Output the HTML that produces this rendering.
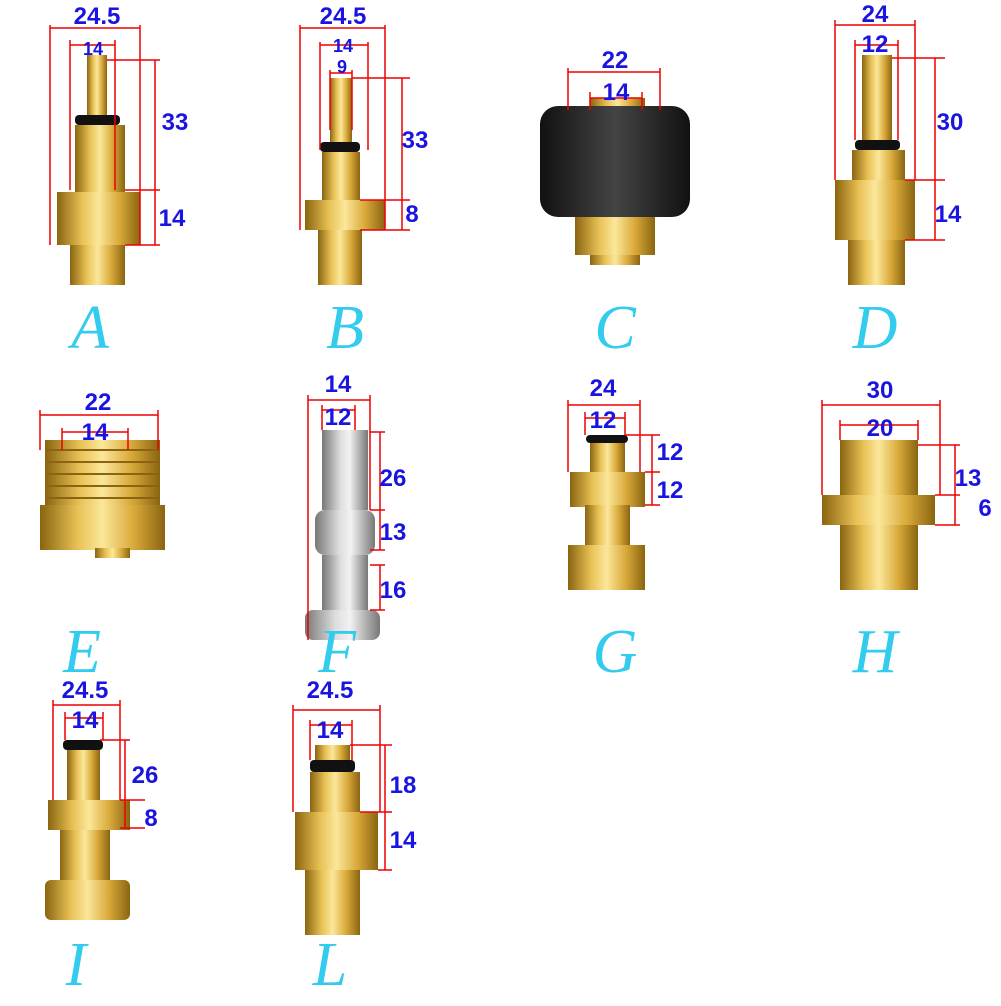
<!DOCTYPE html>
<html><head><meta charset="utf-8"><style>html,body{margin:0;padding:0;background:#fff}</style></head>
<body>
<svg width="1001" height="1001" viewBox="0 0 1001 1001" xmlns="http://www.w3.org/2000/svg">
<defs>
<linearGradient id="g" x1="0" x2="1" y1="0" y2="0">
<stop offset="0" stop-color="#8a6410"/><stop offset="0.3" stop-color="#e8c155"/><stop offset="0.5" stop-color="#fbe79a"/><stop offset="0.75" stop-color="#d9a93a"/><stop offset="1" stop-color="#8a6410"/></linearGradient>
<linearGradient id="s" x1="0" x2="1" y1="0" y2="0">
<stop offset="0" stop-color="#777"/><stop offset="0.4" stop-color="#ddd"/><stop offset="0.6" stop-color="#f2f2f2"/><stop offset="1" stop-color="#777"/></linearGradient>
<linearGradient id="k" x1="0" x2="1" y1="0" y2="0">
<stop offset="0" stop-color="#111"/><stop offset="0.5" stop-color="#444"/><stop offset="1" stop-color="#111"/></linearGradient>
</defs>
<g fill="url(#g)">
<rect x="87" y="55" width="20" height="62"/><rect x="75" y="125" width="50" height="70"/><rect x="57" y="192" width="83" height="53"/><rect x="70" y="245" width="55" height="40"/>
<rect x="330" y="78" width="22" height="64"/><rect x="322" y="152" width="38" height="50"/><rect x="305" y="200" width="80" height="30"/><rect x="318" y="230" width="44" height="55"/>
<rect x="590" y="98" width="55" height="20"/><rect x="575" y="215" width="80" height="40"/><rect x="590" y="255" width="50" height="10"/>
<rect x="862" y="55" width="30" height="85"/><rect x="852" y="150" width="53" height="32"/><rect x="835" y="180" width="80" height="60"/><rect x="848" y="240" width="57" height="45"/>
<rect x="45" y="440" width="115" height="68"/><rect x="40" y="505" width="125" height="45"/><rect x="95" y="548" width="35" height="10"/>
<rect x="590" y="435" width="35" height="38"/><rect x="570" y="472" width="75" height="35"/><rect x="585" y="505" width="45" height="40"/><rect x="568" y="545" width="77" height="45"/>
<rect x="840" y="440" width="78" height="150"/><rect x="822" y="495" width="113" height="30"/>
<rect x="67" y="745" width="33" height="57"/><rect x="48" y="800" width="82" height="30"/><rect x="60" y="830" width="50" height="52"/><rect x="45" y="880" width="85" height="40" rx="6"/>
<rect x="315" y="745" width="35" height="17"/><rect x="310" y="772" width="50" height="42"/><rect x="295" y="812" width="83" height="58"/><rect x="305" y="870" width="55" height="65"/>
</g>
<g fill="#111">
<rect x="75" y="115" width="45" height="10" rx="4"/><rect x="320" y="142" width="40" height="10" rx="4"/><rect x="855" y="140" width="45" height="10" rx="4"/><rect x="586" y="435" width="42" height="8" rx="4"/><rect x="63" y="740" width="40" height="10" rx="4"/><rect x="310" y="760" width="45" height="12" rx="4"/>
</g>
<rect x="540" y="106" width="150" height="111" rx="18" fill="url(#k)"/>
<g stroke="#8a6410" stroke-width="2">
<line x1="45" y1="450" x2="160" y2="450"/><line x1="45" y1="462" x2="160" y2="462"/><line x1="45" y1="474" x2="160" y2="474"/><line x1="45" y1="486" x2="160" y2="486"/><line x1="45" y1="498" x2="160" y2="498"/>
</g>
<g fill="url(#s)"><rect x="322" y="430" width="46" height="80"/><rect x="315" y="510" width="60" height="45" rx="10"/><rect x="322" y="555" width="46" height="55"/><rect x="305" y="610" width="75" height="30" rx="8"/></g>
<g stroke="#e00" stroke-width="1.5" fill="none">
<path d="M50 25V245M140 25V245M50 28H140M70 40V190M115 40V190M70 45H115M107 60H160M125 190H160M125 245H160M155 60V245"/>
<path d="M300 25V230M385 25V230M300 28H385M320 42V150M368 42V150M320 45H368M330 70V130M352 70V130M330 73H352M352 78H410M360 200H410M360 230H410M402 78V230"/>
<path d="M568 68V110M660 68V110M568 72H660M590 92V110M642 92V110M590 98H642"/>
<path d="M835 20V180M915 20V180M835 25H915M855 40V140M898 40V140M855 45H898M892 58H945M905 180H945M905 240H945M935 58V240"/>
<path d="M40 410V450M158 410V450M40 415H158M62 428V450M128 428V450M62 432H128"/>
<path d="M308 395V640M370 395V510M308 400H370M322 405V430M355 405V430M322 410H355M370 432H385M370 510H385M370 550H385M370 565H385M370 610H385M380 432V550M380 565V610"/>
<path d="M568 400V472M640 400V472M568 405H640M585 412V435M625 412V435M585 418H625M625 435H660M645 472H660M645 505H660M652 435V505"/>
<path d="M822 400V495M940 400V495M822 405H940M840 420V440M918 420V440M840 425H918M918 445H960M935 495H960M935 525H960M955 445V525"/>
<path d="M53 700V800M120 700V800M53 705H120M65 712V740M103 712V740M65 718H103M100 740H130M120 800H145M120 828H145M125 740V828"/>
<path d="M293 705V812M380 705V812M293 710H380M310 720V760M352 720V760M310 725H352M350 745H392M360 812H392M378 870H392M385 745V870"/>
</g>
<g fill="#1a14e0" font-family="Liberation Sans, sans-serif" font-weight="bold" font-size="24" text-anchor="middle">
<text x="97" y="24">24.5</text><text x="93" y="55" font-size="18">14</text><text x="175" y="130">33</text><text x="172" y="226">14</text>
<text x="343" y="24">24.5</text><text x="343" y="52" font-size="18">14</text><text x="342" y="73" font-size="18">9</text><text x="415" y="148">33</text><text x="412" y="222">8</text>
<text x="615" y="68">22</text><text x="616" y="100">14</text>
<text x="875" y="22">24</text><text x="875" y="52">12</text><text x="950" y="130">30</text><text x="948" y="222">14</text>
<text x="98" y="410">22</text><text x="95" y="440">14</text>
<text x="338" y="392">14</text><text x="338" y="425">12</text><text x="393" y="486">26</text><text x="393" y="540">13</text><text x="393" y="598">16</text>
<text x="603" y="396">24</text><text x="603" y="428">12</text><text x="670" y="460">12</text><text x="670" y="498">12</text>
<text x="880" y="398">30</text><text x="880" y="436">20</text><text x="968" y="486">13</text><text x="985" y="516">6</text>
<text x="85" y="698">24.5</text><text x="85" y="728">14</text><text x="145" y="783">26</text><text x="151" y="826">8</text>
<text x="330" y="698">24.5</text><text x="330" y="738">14</text><text x="403" y="793">18</text><text x="403" y="848">14</text>
</g>
<g fill="#33ccee" font-family="Liberation Serif, serif" font-style="italic" font-size="62" text-anchor="middle">
<text x="90" y="348">A</text><text x="345" y="348">B</text><text x="615" y="348">C</text><text x="875" y="348">D</text>
<text x="82" y="672">E</text><text x="337" y="672">F</text><text x="615" y="672">G</text><text x="875" y="672">H</text>
<text x="76" y="985">I</text><text x="330" y="985">L</text>
</g>
</svg>
</body></html>
